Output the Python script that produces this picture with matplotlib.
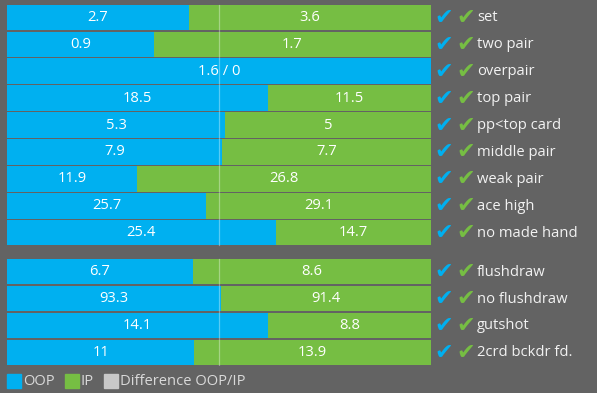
import matplotlib.pyplot as plt
from matplotlib.patches import Rectangle

categories = ["set", "two pair", "overpair", "top pair", "pp<top card", "middle pair",
              "weak pair", "ace high", "no made hand",
              "flushdraw", "no flushdraw", "gutshot", "2crd bckdr fd."]
oop = [2.7, 0.9, 1.6, 18.5, 5.3, 7.9, 11.9, 25.7, 25.4, 6.7, 93.3, 14.1, 11]
ip = [3.6, 1.7, 0, 11.5, 5, 7.7, 26.8, 29.1, 14.7, 8.6, 91.4, 8.8, 13.9]
group_sizes = [9, 4]

BG = "#636363"
BLUE = "#00B0F0"
GREEN = "#76BE43"
GAP = 0.45

# row positions, with a gap between the two groups
ypos = []
start = 0
for g, n in enumerate(group_sizes):
    for i in range(n):
        ypos.append(start + i)
    start += n + GAP

fig = plt.figure(figsize=(5.97, 3.93), dpi=100, facecolor=BG)
W, H = 597, 393
top_px, pitch = 4, 26.9
ymin, ymax = -0.5, ypos[-1] + 0.5
bot_px = top_px + pitch * (ymax - ymin)
ax = fig.add_axes([7 / W, 1 - bot_px / H, 424 / W, (bot_px - top_px) / H])
ax.set_facecolor(BG)
ax.set_xlim(0, 1)
ax.set_ylim(ymax, ymin)
ax.axis("off")

font = "Open Sans"
fs = 10.6
for y, a, b, name in zip(ypos, oop, ip, categories):
    frac = a / (a + b)
    ax.barh(y, frac, left=0, height=0.95, color=BLUE)
    ax.barh(y, 1 - frac, left=frac, height=0.95, color=GREEN)
    if b == 0:
        ax.text(0.5, y, f"{a:g} / {b:g}", ha="center", va="center", color="white",
                fontsize=fs, family=font)
    else:
        ax.text(frac / 2, y, f"{a:g}", ha="center", va="center", color="white",
                fontsize=fs, family=font)
        ax.text(frac + (1 - frac) / 2, y, f"{b:g}", ha="center", va="center",
                color="white", fontsize=fs, family=font)
    ax.text(1.009, y + 0.02, "\u2714", ha="left", va="center", color=BLUE,
            fontsize=16, family="DejaVu Sans", clip_on=False)
    ax.text(1.061, y + 0.02, "\u2714", ha="left", va="center", color=GREEN,
            fontsize=16, family="DejaVu Sans", clip_on=False)
    ax.text(1.108, y + 0.02, name, ha="left", va="center", color="#F2F2F2",
            fontsize=fs, family=font, clip_on=False)

# faint 50% guide line per group
i0 = 0
for n in group_sizes:
    ax.plot([0.5, 0.5], [ypos[i0] - 0.475, ypos[i0 + n - 1] + 0.475],
            color="white", alpha=0.35, lw=0.9)
    i0 += n

# legend
legend_items = [("OOP", BLUE), ("IP", GREEN), ("Difference OOP/IP", "#C8C8C8")]
x = 7
for label, col in legend_items:
    fig.patches.append(Rectangle((x / W, 1 - 388 / H), 14 / W, 14 / H,
                                 transform=fig.transFigure, color=col))
    t = fig.text((x + 16) / W, 1 - 381.5 / H, label, ha="left", va="center",
                 color="#D9D9D9", fontsize=fs, family=font)
    fig.canvas.draw()
    bb = t.get_window_extent()
    x = bb.x1 + 10

fig.savefig("out.png", dpi=100, facecolor=BG)
